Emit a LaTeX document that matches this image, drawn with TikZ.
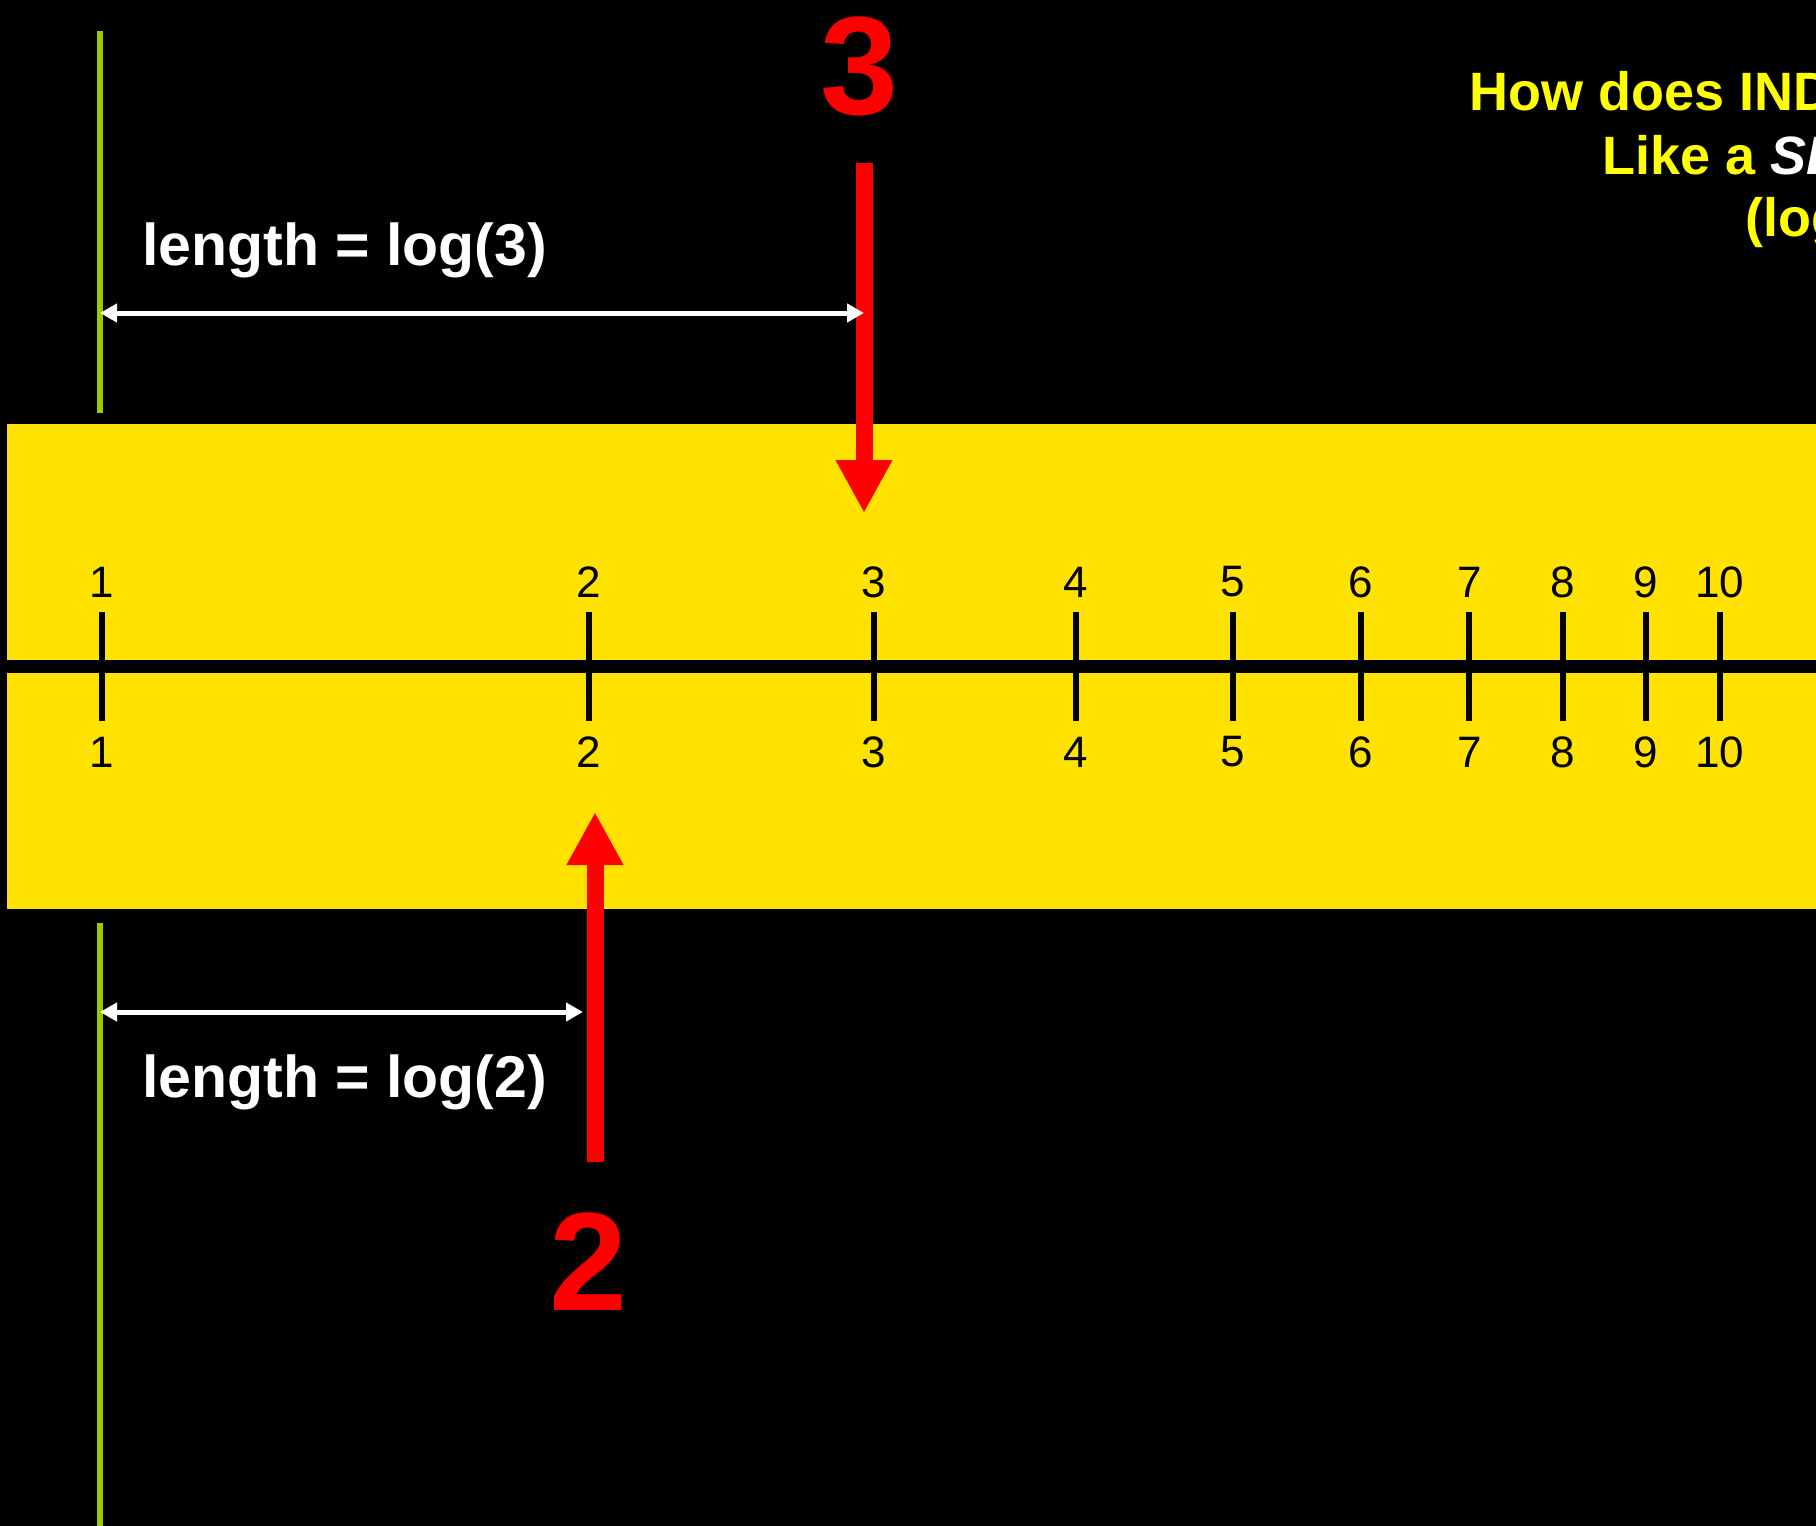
\documentclass[tikz,border=0pt]{standalone}
\usepackage{fontspec}
\setmainfont{Liberation Sans}
\usetikzlibrary{arrows.meta}
\definecolor{band}{RGB}{255,226,0}
\definecolor{lime}{RGB}{153,204,0}
\definecolor{titleyel}{RGB}{255,255,0}
\tikzset{
  redarr/.style={-{Triangle[length=53pt,width=53pt]}, line width=17pt, draw=red},
  dimarr/.style={{Triangle[length=17pt,width=18pt]}-{Triangle[length=17pt,width=18pt]},
                 line width=5pt, draw=white},
  rim/.style={line width=6pt, draw=lime},
  tk/.style={line width=6pt},
  num/.style={inner sep=0pt, font=\fontsize{44}{44}\selectfont},
  lbl/.style={inner sep=0pt, anchor=base west, text=white,
              font=\fontsize{59}{70}\selectfont\bfseries},
  big/.style={inner sep=0pt, anchor=base, text=red,
              font=\fontsize{140}{140}\selectfont\bfseries},
  ttl/.style={inner sep=0pt, anchor=base west, text=titleyel,
              font=\fontsize{54}{63}\selectfont\bfseries}
}

\begin{document}
\begin{tikzpicture}[x=1pt,y=-1pt]
\useasboundingbox (0,0) rectangle (1816,1526);
\clip (0,0) rectangle (1816,1526);
\fill[black] (0,0) rectangle (1816,1526);
% the rule
\fill[band] (7,424) rectangle (1816,909);
\draw[line width=13pt] (7,666) -- (1816,666);
\foreach \n in {1,...,10}{
  \pgfmathsetmacro\xx{102+1618*log10(\n)}
  \draw[tk] (\xx,612) -- (\xx,721);
  \node[num] (u\n) at (\xx,582) {\n};
  \node[num] (d\n) at (\xx,752) {\n};
}
% green marks
\coordinate (ga) at (100,31);
\coordinate (gb) at (100,413);
\coordinate (gc) at (100,923);
\coordinate (gd) at (100,1526);
\draw[rim] (ga) -- (gb);
\draw[rim] (gc) -- (gd);
% red arrows
\coordinate (s3) at (864,163);
\coordinate (p3) at (864,513);
\coordinate (s2) at (595,1162);
\coordinate (p2) at (595,812);
\draw[redarr] (s3) -- (p3);
\draw[redarr] (s2) -- (p2);
\node[big] (n3) at (859,114) {3};
\node[big] (n2) at (588,1310) {2};
% lengths
\coordinate (wa) at (100,313);
\coordinate (wb) at (864,313);
\coordinate (wc) at (100,1012);
\coordinate (wd) at (583,1012);
\draw[dimarr] (wa) -- (wb);
\draw[dimarr] (wc) -- (wd);
\node[lbl] (len3) at (142,265) {length = log(3)};
\node[lbl] (len2) at (142,1097) {length = log(2)};
% title
\node[ttl] (t1) at (1469,110) {How does IND};
\node[ttl] (t2) at (1602,174) {Like a \textcolor{white}{\itshape SL}};
\node[ttl] (t3) at (1745,236) {(log};
\end{tikzpicture}
\end{document}
